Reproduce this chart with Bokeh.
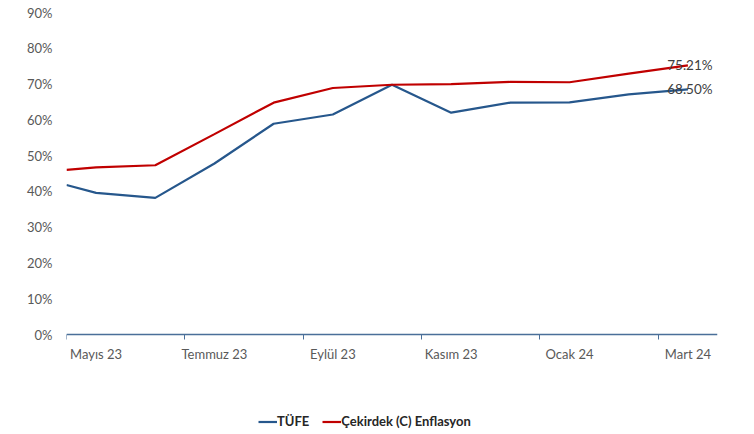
from bokeh.plotting import figure
from bokeh.models import Range1d, FixedTicker, Legend, LegendItem, ColumnDataSource, PrintfTickFormatter
from bokeh.core.properties import value
from bokeh.embed import file_html
from bokeh.resources import INLINE

# ---- data ----
x_pos = [-0.5, 0, 1, 2, 3, 4, 5, 6, 7, 8, 9, 10]   # period positions (May 23 = 0 ... Mar 24 = 10)
tufe = [41.8, 39.6, 38.2, 47.8, 58.9, 61.5, 69.8, 62.0, 64.8, 64.9, 67.1, 68.5]
cekirdek = [46.0, 46.7, 47.3, 56.0, 64.8, 68.9, 69.8, 70.0, 70.6, 70.5, 72.9, 75.21]
tick_pos = [0, 2, 4, 6, 8, 10]
tick_labels = ["Mayıs 23", "Temmuz 23", "Eylül 23", "Kasım 23", "Ocak 24", "Mart 24"]
boundary_ticks = [-0.5, 1.5, 3.5, 5.5, 7.5, 9.5]
y_ticks = [0, 10, 20, 30, 40, 50, 60, 70, 80, 90]

BLUE = "#26578c"
RED = "#c00000"
FONT = "Lato"
GRAY = "#595959"

# frame: 90% at 12px, 0% at 334px, frame continues to the bottom edge (434px) to hold the legend
PX_PER_PCT = 322 / 90.0
Y_MIN = -(434 - 334) / PX_PER_PCT

p = figure(frame_width=651, frame_height=422, output_backend="svg", toolbar_location=None,
           x_range=Range1d(-0.5, 10.5), y_range=Range1d(Y_MIN, 90),
           min_border_left=66, min_border_right=37, min_border_top=12, min_border_bottom=0)
p.outline_line_color = None
p.xgrid.visible = False
p.ygrid.visible = False
p.background_fill_color = "white"
p.border_fill_color = "white"

src = ColumnDataSource(dict(x=x_pos, tufe=tufe, cek=cekirdek))
r1 = p.line("x", "tufe", source=src, line_color=BLUE, line_width=2.2)
r2 = p.line("x", "cek", source=src, line_color=RED, line_width=2.2)

# end labels
lab = ColumnDataSource(dict(x=[x_pos[-1], x_pos[-1]], y=[cekirdek[-1], tufe[-1]],
                            t=["%.2f%%" % cekirdek[-1], "%.2f%%" % tufe[-1]]))
p.text("x", "y", text="t", source=lab, text_align="center", text_baseline="middle",
       x_offset=2, text_font=value(FONT), text_font_size="13.5px", text_color="#404040")

# x axis (drawn at 0%)
xa = p.xaxis[0]
xa.fixed_location = 0
xa.ticker = FixedTicker(ticks=tick_pos, minor_ticks=boundary_ticks)
xa.major_label_overrides = {t: l for t, l in zip(tick_pos, tick_labels)}
xa.axis_line_color = "#4a6f99"
xa.axis_line_width = 1.3
xa.major_tick_out = 0
xa.major_tick_in = 0
xa.minor_tick_out = 5
xa.minor_tick_in = 0
xa.minor_tick_line_color = "#4a6f99"
xa.major_label_standoff = 6
xa.major_label_text_font = FONT
xa.major_label_text_font_size = "13px"
xa.major_label_text_color = GRAY

# y axis
ya = p.yaxis[0]
ya.ticker = FixedTicker(ticks=y_ticks)
ya.formatter = PrintfTickFormatter(format="%d%%")
ya.axis_line_color = None
ya.major_tick_out = 0
ya.major_tick_in = 0
ya.minor_tick_out = 0
ya.minor_tick_in = 0
ya.major_label_standoff = 14
ya.major_label_text_font = FONT
ya.major_label_text_font_size = "13px"
ya.major_label_text_color = GRAY

legend = Legend(items=[LegendItem(label="TÜFE", renderers=[r1]),
                       LegendItem(label="Çekirdek (C) Enflasyon", renderers=[r2])],
                orientation="horizontal", location=(192, 5),
                label_text_font=FONT, label_text_font_style="bold",
                label_text_font_size="13px", label_text_color="#262626",
                glyph_width=19, glyph_height=13, label_standoff=0, spacing=13,
                padding=0, margin=0, border_line_color=None, background_fill_alpha=0)
p.add_layout(legend)

open("out.html", "w").write(file_html(p, INLINE))
